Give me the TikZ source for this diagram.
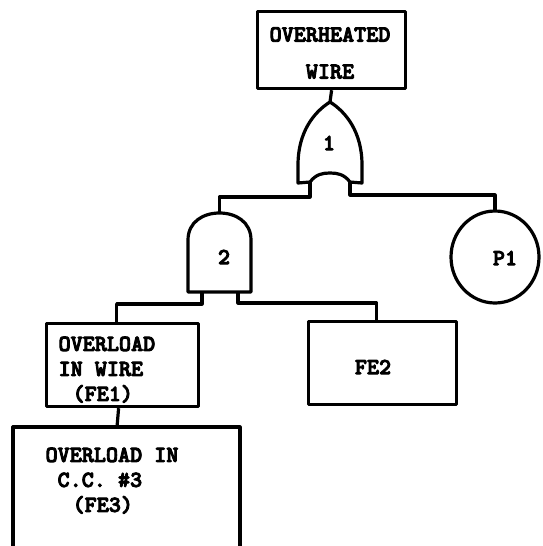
\documentclass[tikz,border=0pt]{standalone}
\usepackage{fontspec}
\newfontfamily\tw{lmmonolt10-bold.otf}[FakeBold=4]
\begin{document}
\begin{tikzpicture}[x=1pt,y=-1pt,line width=3.2pt,line join=round,
  box/.style={draw,rectangle,inner sep=0pt,anchor=north west},
  lbl/.style={inner sep=0pt,font=\tw\fontsize{23}{25}\selectfont},
  gatestyle/.style={draw,line width=3.2pt}]
\useasboundingbox (0,0) rectangle (542,546);
% top event
\node[box,minimum width=148pt,minimum height=77pt] (top) at (256,10) {};
\node[lbl,align=center,font=\tw\fontsize{23}{37}\selectfont] (toptxt) at (330,53) {OVERHEATED\\WIRE};
% OR gate 1
\coordinate (orapex) at (330,102);
\coordinate (orL) at (310,182);
\coordinate (orR) at (350,182);
\draw[gatestyle] (298,183) -- (298,165) .. controls (298,132) and (314,112) .. (orapex)
  .. controls (346,112) and (362,132) .. (362,165) -- (362,183) -- (orR)
  .. controls (344,174) and (337,173) .. (330,173)
  .. controls (323,173) and (316,174) .. (orL) -- cycle;
\node[lbl] (g1) at (329,143) {1};
% AND gate 2
\coordinate (andtop) at (219.5,213);
\coordinate (andL) at (202,292);
\coordinate (andR) at (238,292);
\draw[gatestyle] (188,292) -- (188,240) .. controls (188,222) and (203,213) .. (andtop)
  .. controls (236,213) and (251,222) .. (251,240) -- (251,292) -- cycle;
\node[lbl] (g2) at (224,257) {2};
% P1
\coordinate (p1c) at (495,257);
\coordinate (p1top) at (495,211);
\draw (p1c) ellipse [x radius=44pt, y radius=46pt];
\node[lbl] (p1txt) at (505,258) {P1};
% FE1, FE2
\node[box,minimum width=152pt,minimum height=83pt] (fe1) at (45,322) {};
\node[lbl,align=left,anchor=north west] (fe1txt) at (57,335) {OVERLOAD\\IN WIRE\\\hspace{14pt}(FE1)};
\node[box,minimum width=148pt,minimum height=83pt] (fe2) at (307,320) {};
\node[lbl] (fe2txt) at (373,367) {FE2};
% FE3 (open at the bottom)
\coordinate (fe3top) at (117,427);
\draw (13,546) -- (13,427) -- (240,427) -- (240,546);
\node[lbl,align=left,anchor=north west] (fe3txt) at (44,446) {OVERLOAD IN\\\hspace{12pt}C.C. \#3\\\hspace{27pt}(FE3)};
% connectors
\draw (top.south) -- (orapex);
\draw (orL) -- ++(0,15) -| (andtop);
\draw (orR) -- ++(0,13) -| (p1top);
\draw (andL) -- ++(0,12) -| ([xshift=-6pt]fe1.north);
\draw (andR) -- ++(0,11) -| ([xshift=-6pt]fe2.north);
\draw ([xshift=-4pt]fe1.south) -- (fe3top);
\end{tikzpicture}
\end{document}
